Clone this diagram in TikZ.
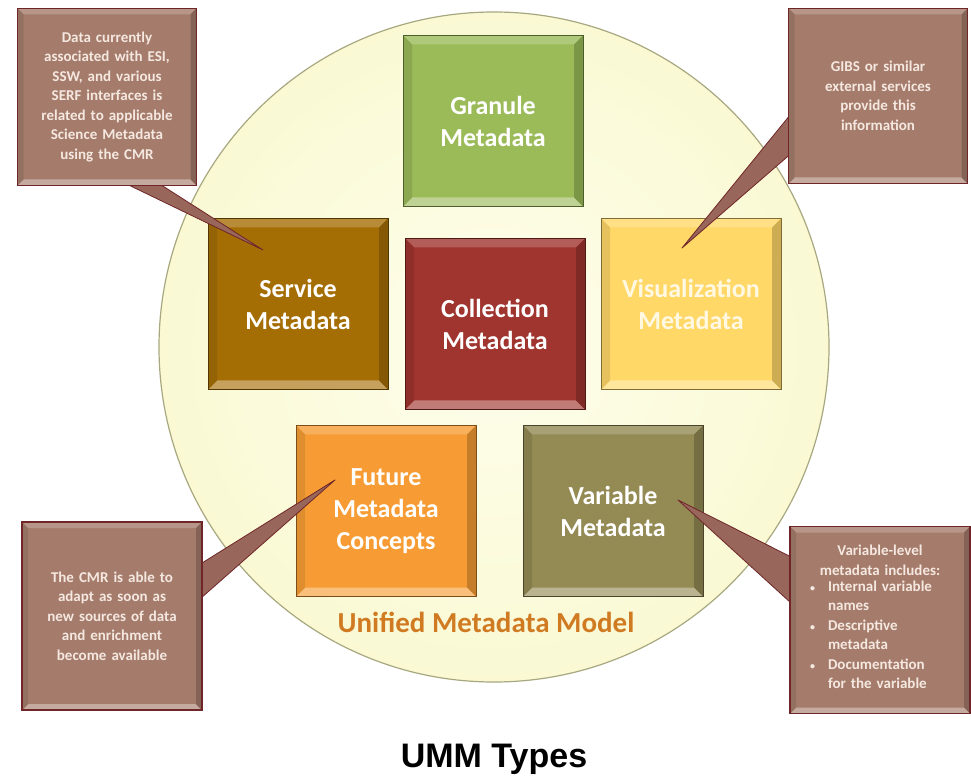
\documentclass[tikz,border=0pt]{standalone}
\usepackage{fontspec}
\setmainfont{Carlito}
\newfontfamily\titlefont{Liberation Sans}
\usepackage{tikz}
\usetikzlibrary{calc,positioning,shapes}
\definecolor{grancol}{RGB}{155,187,89}
\definecolor{servcol}{RGB}{165,110,5}
\definecolor{collcol}{RGB}{160,52,46}
\definecolor{viscol}{RGB}{255,216,104}
\definecolor{futcol}{RGB}{247,156,52}
\definecolor{varcol}{RGB}{148,138,84}
\definecolor{callcol}{RGB}{165,124,108}
\definecolor{callbrd}{RGB}{112,38,40}
\definecolor{calltxt}{RGB}{245,232,224}
\definecolor{ummin}{RGB}{254,254,236}
\definecolor{ummout}{RGB}{250,249,212}
\definecolor{ummbrd}{RGB}{168,168,128}
\definecolor{ummtxt}{RGB}{208,122,34}
\definecolor{vistxt}{RGB}{255,248,226}
\pgfdeclarelayer{front}
\pgfsetlayers{main,front}
\tikzset{
bevel width/.store in=\bevw,
bevel width=9,
bevel/.style={fill=#1, draw=#1!50!black, line width=0.8pt,
  path picture={
    \fill[#1!80!white] (path picture bounding box.north west) -- (path picture bounding box.north east)
      -- ([shift={(-\bevw,-\bevw)}]path picture bounding box.north east)
      -- ([shift={(\bevw,-\bevw)}]path picture bounding box.north west) -- cycle;
    \fill[#1!65!white] (path picture bounding box.south west) -- (path picture bounding box.south east)
      -- ([shift={(-\bevw,\bevw)}]path picture bounding box.south east)
      -- ([shift={(\bevw,\bevw)}]path picture bounding box.south west) -- cycle;
    \fill[#1!90!black] (path picture bounding box.north west) -- (path picture bounding box.south west)
      -- ([shift={(\bevw,\bevw)}]path picture bounding box.south west)
      -- ([shift={(\bevw,-\bevw)}]path picture bounding box.north west) -- cycle;
    \fill[#1!80!black] (path picture bounding box.north east) -- (path picture bounding box.south east)
      -- ([shift={(-\bevw,\bevw)}]path picture bounding box.south east)
      -- ([shift={(-\bevw,-\bevw)}]path picture bounding box.north east) -- cycle;
  }},
umm box/.style={bevel=#1, minimum width=180pt, minimum height=171pt, text width=165pt,
  align=center, text=white, font=\bfseries\fontsize{26}{32}\selectfont},
callout/.style={bevel=callcol, bevel width=6, draw=callbrd, line width=1.6pt, text width=165pt,
  align=center, text=calltxt, font=\bfseries\fontsize{15}{19.5}\selectfont},
pointer/.style={fill=callcol!75!callbrd, draw=callbrd, line width=0.8pt, line join=round},
}

\begin{document}
\begin{tikzpicture}[x=1pt,y=1pt]
\path[use as bounding box, fill=white] (0,0) rectangle (971,777);

% the model
\node (umm) [circle, minimum size=670pt, inner color=ummin, outer color=ummout,
  draw=ummbrd, line width=1.2pt] at (494,430) {};
\node (ummlabel) [text=ummtxt, font=\bfseries\fontsize{29}{34}\selectfont] at (486,155) {Unified Metadata Model};

% metadata types
\node (gran) [umm box=grancol] at (493,656) {Granule\\Metadata};
\node (srv)  [umm box=servcol] at (298,473) {Service\\Metadata};
\node (coll) [umm box=collcol] at (495,453) {Collection\\Metadata};
\node (vis)  [umm box=viscol, text=vistxt] at (691,473) {Visualization\\Metadata};
\node (fut)  [umm box=futcol] at (386,266) {Future\\Metadata\\Concepts};
\node (var)  [umm box=varcol] at (613,266) {Variable\\Metadata};

% notes
\begin{pgfonlayer}{front}
\node (tl) [callout, minimum width=179pt, minimum height=177pt] at (107,680)
  {Data currently\\associated with ESI,\\SSW, and various\\SERF interfaces is\\related to applicable\\Science Metadata\\using the CMR};
\node (tr) [callout, minimum width=179pt, minimum height=175pt] at (878,681)
  {GIBS or similar\\external services\\provide this\\information};
\node (bl) [callout, minimum width=180pt, minimum height=188pt] at (112,161)
  {The CMR is able to\\adapt as soon as\\new sources of data\\and enrichment\\become available};
\node (br) [callout, minimum width=180pt, minimum height=187pt] at (880,157)
  {Variable-level\\metadata includes:\\[1pt]
  \hspace*{-18pt}\begin{tabular}{@{}l@{\hspace{13pt}}l@{}}
  {\fontsize{10}{12}\selectfont\textbullet} & Internal variable\\
   & names\\
  {\fontsize{10}{12}\selectfont\textbullet} & Descriptive\\
   & metadata\\
  {\fontsize{10}{12}\selectfont\textbullet} & Documentation\\
   & for the variable
  \end{tabular}};
\end{pgfonlayer}

% pointers
\coordinate (tipsrv) at ($(srv.center)+(-35,54)$);
\coordinate (tipvis) at ($(vis.center)+(-9,56)$);
\coordinate (tipfut) at ($(fut.center)+(-51,31)$);
\coordinate (tipvar) at ($(var.center)+(65,11)$);
\draw[pointer] ($(tl.south)+(16,4)$) -- (tipsrv) -- ($(tl.south)+(50,4)$) -- cycle;
\draw[pointer] ($(tr.west)+(4,-17)$) -- (tipvis) -- ($(tr.west)+(4,-57)$) -- cycle;
\draw[pointer] ($(bl.east)+(-4,51)$) -- (tipfut) -- ($(bl.east)+(-4,16)$) -- cycle;
\draw[pointer] ($(br.west)+(4,62)$) -- (tipvar) -- ($(br.west)+(4,15)$) -- cycle;

\node (title) [anchor=base, font=\titlefont\bfseries\fontsize{34}{40}\selectfont] at (494,10) {UMM Types};
\end{tikzpicture}
\end{document}
